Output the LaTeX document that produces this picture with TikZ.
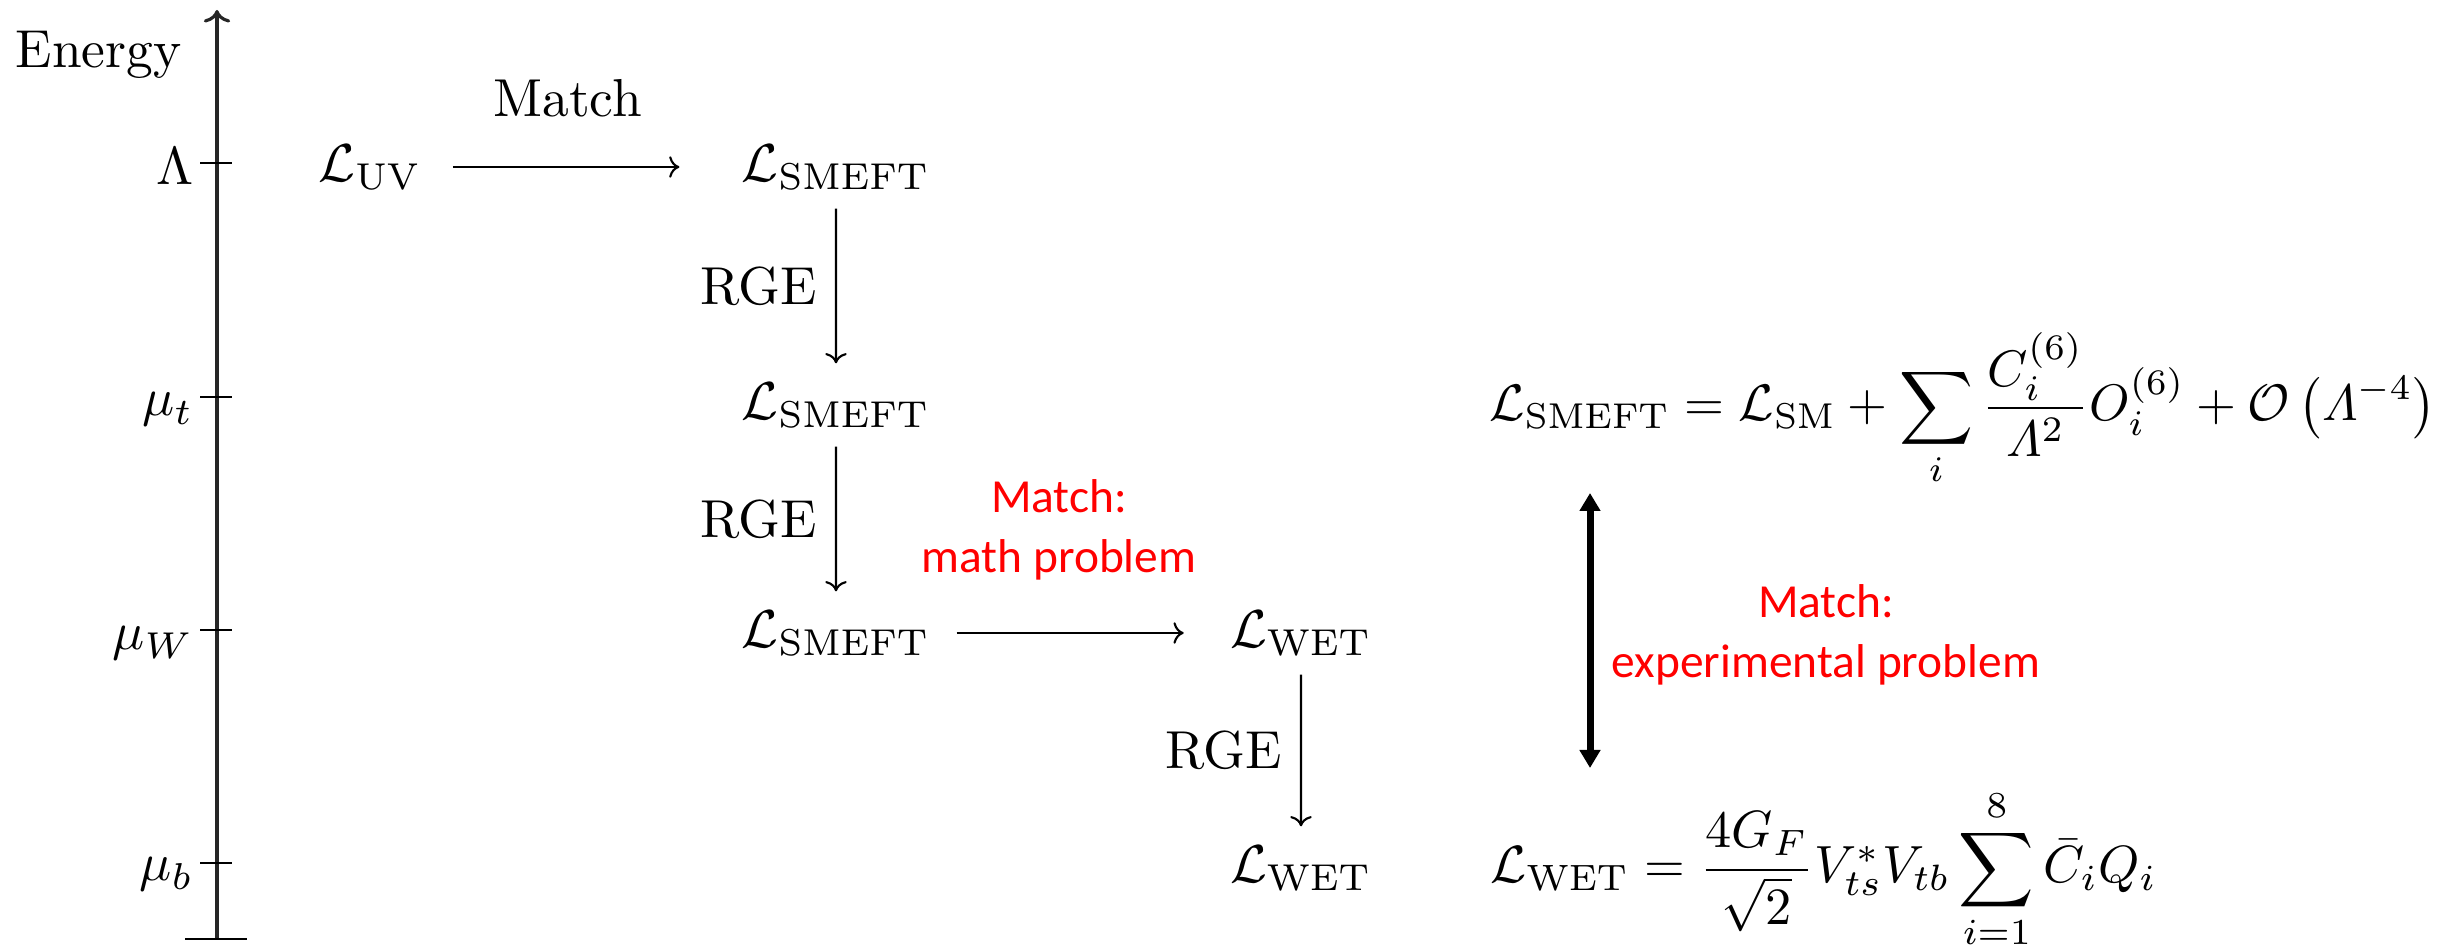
\RequirePackage{fix-cm}
\documentclass[tikz,border=0pt]{standalone}
\usepackage{amsmath, amsfonts, amssymb}
\usepackage[no-math]{fontspec}
\newfontfamily\redfont{Carlito}
\usepackage{xcolor}
\usepackage{tikz}
\usetikzlibrary{arrows.meta, positioning, calc}

\begin{document}
\begin{tikzpicture}[>={Computer Modern Rightarrow}, line width=0.6pt, font=\fontsize{10}{12}\selectfont]
        \tikzstyle{lbl} = [scale=1.52]
        \tikzstyle{lag} = [lbl]
        \tikzstyle{scalelab} = [anchor=base east, inner sep=0pt, lbl]
        \tikzstyle{redtxt} = [text=red, align=center, font=\redfont\fontsize{13.5}{17}\selectfont]
        \tikzstyle{formula} = [anchor=base west, inner sep=0pt]
        \tikzstyle{matcharrow} = [{Triangle[length=0.18cm, width=0.2cm]}-{Triangle[length=0.18cm, width=0.2cm]}, line width=2pt]

        \useasboundingbox (0,0) rectangle (24.45,9.50);

        % energy scale
        \draw[->, line width=0.9pt, draw=black!85] (2.17,0.11) -- (2.17,9.40);
        \draw (1.85,0.11) -- (2.47,0.11);
        \node[scalelab] (energy) at (1.83,8.82) {Energy};
        \draw (2.00,7.87) -- (2.32,7.87);
        \node[scalelab] (lam) at (1.95,7.65) {$\Lambda$};
        \draw (2.00,5.53) -- (2.32,5.53);
        \node[scalelab] (mut) at (1.95,5.34) {$\mu_t$};
        \draw (2.00,3.20) -- (2.32,3.20);
        \node[scalelab] (muw) at (1.95,3.00) {$\mu_W$};
        \draw (2.00,0.87) -- (2.32,0.87);
        \node[scalelab] (mub) at (1.95,0.69) {$\mu_b$};

        \node[lag] (uv) at (3.70,7.83) {$\mathcal{L}_{\mathrm{UV}}$};
        \node[lag] (sm1) at (8.36,7.83) {$\mathcal{L}_{\mathrm{SMEFT}}$};
        \node[lag] (sm2) at (8.36,5.45) {$\mathcal{L}_{\mathrm{SMEFT}}$};
        \node[lag] (sm3) at (8.36,3.17) {$\mathcal{L}_{\mathrm{SMEFT}}$};
        \node[lag] (wet1) at (13.01,3.17) {$\mathcal{L}_{\mathrm{WET}}$};
        \node[lag] (wet2) at (13.01,0.82) {$\mathcal{L}_{\mathrm{WET}}$};

        \draw[->, shorten <=0.12cm, shorten >=0.43cm] (uv) -- node[above=0.3cm, pos=0.45, lbl] (matchlab) {Match} (sm1);
        \draw[->] (sm1) -- node[left, lbl] (rge1) {RGE} (sm2);
        \draw[->] (sm2) -- node[left, lbl] (rge2) {RGE} (sm3);
        \draw[->, shorten <=0.07cm, shorten >=0.27cm] (sm3) -- (wet1);
        \draw[->] (wet1) -- node[left, lbl] (rge3) {RGE} (wet2);

        \node[redtxt] (mathprob) at (10.59,4.20) {Match:\\math problem};

        \node[formula, scale=1.46] (eqsmeft) at (14.88,5.29) {$\mathcal{L}_{\mathrm{SMEFT}}=\mathcal{L}_{\mathrm{SM}}+\displaystyle\sum_i\frac{C_i^{(6)}}{\varLambda^2}O_i^{(6)}+\mathcal{O}\left(\varLambda^{-4}\right)$};
        \node[formula, scale=1.49] (eqwet) at (14.89,0.67) {$\mathcal{L}_{\mathrm{WET}}=\dfrac{4G_F}{\sqrt{2}}V_{ts}^{*}V_{tb}\displaystyle\sum_{i=1}^{8}\bar{C}_iQ_i$};

        \coordinate (mtop) at (15.90,4.57);
        \coordinate (mbot) at (15.90,1.82);
        \draw[matcharrow] (mtop) -- (mbot);
        \node[redtxt] (expprob) at (18.26,3.15) {Match:\\experimental problem};
    \end{tikzpicture}
\end{document}
